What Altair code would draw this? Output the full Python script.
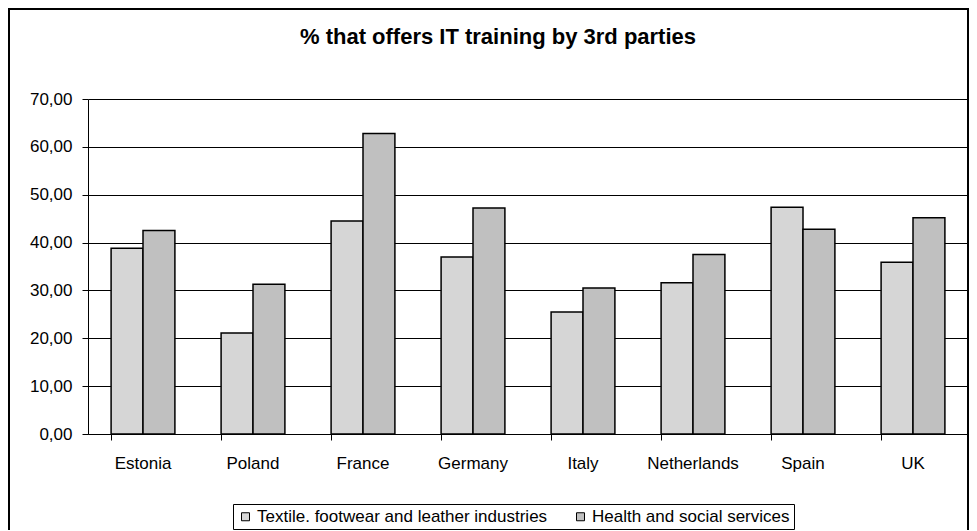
import altair as alt
import pandas as pd

countries = ["Estonia", "Poland", "France", "Germany", "Italy", "Netherlands", "Spain", "UK"]
series = ["Textile. footwear and leather industries", "Health and social services"]
textile = [38.8, 21.1, 44.5, 37.0, 25.5, 31.6, 47.4, 35.9]
health = [42.5, 31.3, 62.8, 47.2, 30.5, 37.5, 42.8, 45.2]
title_text = "% that offers IT training by 3rd parties"

rows = []
for c, t, h in zip(countries, textile, health):
    rows.append({"country": c, "series": series[0], "value": t})
    rows.append({"country": c, "series": series[1], "value": h})
df = pd.DataFrame(rows)

FONT = "Liberation Sans"
W, H = 880, 335
PL, PT, PR, PB = 80, 91, 1, 96

one = alt.Data(values=[{"a": 1}])

frame = alt.Chart(one).mark_rect(
    filled=False, stroke="black", strokeWidth=2
).encode(
    x=alt.value(-79), x2=alt.value(W),
    y=alt.value(-90), y2=alt.value(H + 200),
)

title = alt.Chart(one).mark_text(
    font=FONT, fontSize=22, fontWeight="bold", color="black",
    align="center", baseline="alphabetic"
).encode(x=alt.value(410), y=alt.value(-55), text=alt.value(title_text))

bars = alt.Chart(df).mark_bar(stroke="black", strokeWidth=1.5).encode(
    x=alt.X("country:N", sort=countries, title=None,
            scale=alt.Scale(paddingInner=0.42, paddingOuter=0.21),
            axis=alt.Axis(labelAngle=0, bandPosition=0, tickSize=6, tickColor="black",
                          domainColor="black", labelFont=FONT, labelFontSize=17,
                          labelColor="black", labelPadding=15, grid=False)),
    xOffset=alt.XOffset("series:N", sort=series, scale=alt.Scale(paddingInner=0, paddingOuter=0)),
    y=alt.Y("value:Q", title=None,
            scale=alt.Scale(domain=[0, 70], nice=False),
            axis=alt.Axis(values=[0, 10, 20, 30, 40, 50, 60, 70], tickSize=6,
                          tickColor="black", domainColor="black", gridColor="black",
                          gridOpacity=1, labelFont=FONT, labelFontSize=17,
                          labelColor="black", labelPadding=10,
                          labelExpr="replace(format(datum.value, '.2f'), '.', ',')")),
    fill=alt.Fill("series:N", sort=series, title=None,
                  scale=alt.Scale(domain=series, range=["#d6d6d6", "#c0c0c0"]),
                  legend=alt.Legend(orient="none", legendX=145, legendY=405,
                                    direction="horizontal", strokeColor="black",
                                    padding=4, symbolType="square", symbolSize=64,
                                    symbolStrokeColor="black", symbolStrokeWidth=1,
                                    symbolOpacity=1,
                                    labelFont=FONT, labelFontSize=17, labelColor="black",
                                    labelLimit=400, labelOffset=3, columnPadding=24)),
)

chart = alt.layer(frame, bars, title).properties(
    width=W, height=H,
    padding={"left": PL, "top": PT, "right": PR, "bottom": PB},
    autosize=alt.AutoSizeParams(type="none"),
).configure_view(stroke=None).configure_axis(
    domainWidth=1, tickWidth=1, gridWidth=1
)

chart.save("out.html", embed_options={"renderer": "svg", "actions": False})
